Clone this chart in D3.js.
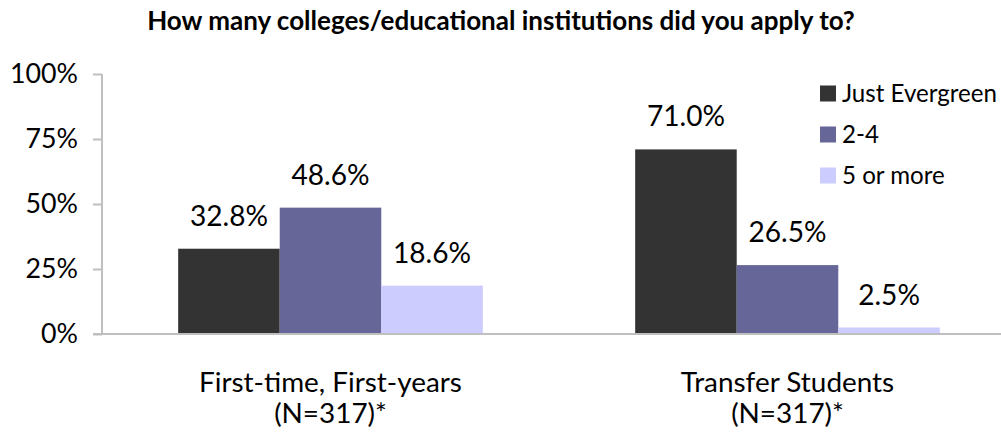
<!DOCTYPE html>
<html><head><meta charset="utf-8">
<script src="https://cdn.jsdelivr.net/npm/d3@7"></script>
<style>body{margin:0;background:#fff}svg{display:block}text{font-family:Lato,"Open Sans",sans-serif;fill:#000}</style>
</head><body><svg id="c" width="1001" height="438"></svg>
<script>
const title = "How many colleges/educational institutions did you apply to?";
const categories = ["First-time, First-years", "Transfer Students"];
const categorySub = ["(N=317)*", "(N=317)*"];
const seriesNames = ["Just Evergreen", "2-4", "5 or more"];
const seriesColors = ["#333333", "#666699", "#CCCCFF"];
const justEvergreen = [32.8, 71.0];
const twoToFour = [48.6, 26.5];
const fiveOrMore = [18.6, 2.5];
const yTicks = [0, 25, 50, 75, 100];
const seriesValues = [justEvergreen, twoToFour, fiveOrMore];

(function(){
const svg = d3.select("#c");
const pL = 102, pR = 1016, pT = 74, pB = 334;

function fitSize(str, target, weight) {
  const t = svg.append("text").attr("font-size", 100).attr("font-weight", weight || "normal").text(str);
  const w = t.node().getComputedTextLength();
  t.remove();
  return 100 * target / w;
}
const tickFs = fitSize("100%", 68);
const valFs = fitSize("48.6%", 78);
const catFs = fitSize("First-time, First-years", 263);
const legFs = fitSize("Just Evergreen", 155);
const titleFs = fitSize(title, 708, "bold");

const y = d3.scaleLinear().domain([0, 100]).range([pB, pT]);
const x0 = d3.scaleBand().domain(categories).range([pL, pR]).paddingInner(0).paddingOuter(0);
const x1 = d3.scaleBand().domain(seriesNames).range([0, x0.bandwidth()]).paddingInner(0).paddingOuter(0.75);

svg.append("text").attr("x", 501).attr("y", 30).attr("text-anchor", "middle")
  .attr("font-weight", "bold").attr("font-size", titleFs).text(title);

const yAxis = d3.axisLeft(y).tickValues(yTicks).tickFormat(d => d + "%").tickSize(9).tickPadding(15);
const ga = svg.append("g").attr("transform", `translate(${pL},0)`).call(yAxis);
ga.select(".domain").attr("stroke", "#BFBFBF").attr("stroke-width", 2).attr("d", `M0,${pT}V${pB}`);
ga.selectAll(".tick line").attr("stroke", "#BFBFBF").attr("stroke-width", 2);
ga.selectAll(".tick text").attr("font-size", tickFs).attr("font-family", "Lato").attr("fill", "#000");

const groups = svg.append("g").selectAll("g").data(categories).join("g")
  .attr("transform", d => `translate(${x0(d)},0)`);
groups.each(function(cat, ci) {
  const g = d3.select(this);
  seriesNames.forEach((s, si) => {
    const v = seriesValues[si][ci];
    g.append("rect").attr("x", x1(s)).attr("width", x1.bandwidth())
      .attr("y", y(v)).attr("height", y(0) - y(v)).attr("fill", seriesColors[si]);
    g.append("text").attr("x", x1(s) + x1.bandwidth() / 2).attr("y", y(v) - 23)
      .attr("text-anchor", "middle").attr("font-size", valFs).text(v.toFixed(1) + "%");
  });
});

svg.append("line").attr("x1", pL - 9).attr("x2", pR).attr("y1", pB).attr("y2", pB)
  .attr("stroke", "#BFBFBF").attr("stroke-width", 2);

categories.forEach((c, i) => {
  const cx = x0(c) + x0.bandwidth() / 2;
  svg.append("text").attr("x", cx).attr("y", 392).attr("text-anchor", "middle").attr("font-size", catFs).text(c);
  svg.append("text").attr("x", cx).attr("y", 423).attr("text-anchor", "middle").attr("font-size", catFs).text(categorySub[i]);
});

const leg = svg.append("g");
seriesNames.forEach((s, i) => {
  const cy = 93.5 + i * 41;
  leg.append("rect").attr("x", 820).attr("y", cy - 8).attr("width", 16).attr("height", 16).attr("fill", seriesColors[i]);
  leg.append("text").attr("x", 842).attr("y", cy).attr("dy", "0.36em").attr("font-size", legFs).text(s);
});
})();
</script></body></html>
